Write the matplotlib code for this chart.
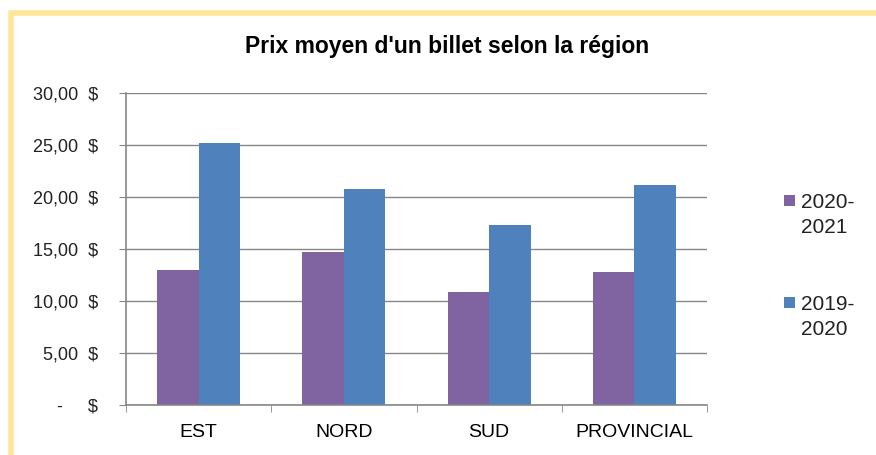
import matplotlib.pyplot as plt
from matplotlib.patches import Rectangle
from matplotlib.ticker import FuncFormatter
import numpy as np

regions = ['EST', 'NORD', 'SUD', 'PROVINCIAL']
prix_2020_2021 = [13.0, 14.7, 10.9, 12.8]
prix_2019_2020 = [25.2, 20.8, 17.3, 21.2]
series_labels = ['2020-\n2021', '2019-\n2020']
series_colors = ['#8064A2', '#4F81BD']
titre = "Prix moyen d'un billet selon la région"

plt.rcParams['font.family'] = ['Liberation Sans', 'DejaVu Sans']

W, H = 876, 455


def format_dollars(v, pos):
    if abs(v) < 1e-9:
        return '-     $'
    return '{:.2f}'.format(v).replace('.', ',') + '  $'


def main():
    fig = plt.figure(figsize=(W / 100, H / 100), dpi=100)

    # cadre jaune autour du graphique
    fig.patches.append(Rectangle((10.5 / W, -0.1), 1.2, 1 - 12.5 / H + 0.1,
                                 transform=fig.transFigure, fill=False,
                                 edgecolor='#FFE699', linewidth=4))

    ax = fig.add_axes([126 / W, 1 - 405 / H, (707 - 126) / W, (405 - 93) / H])

    x = np.arange(len(regions))
    w = 1 / 3.5
    ax.bar(x - w / 2, prix_2020_2021, w, color=series_colors[0])
    ax.bar(x + w / 2, prix_2019_2020, w, color=series_colors[1])

    ax.set_xlim(-0.5, len(regions) - 0.5)
    ax.set_ylim(0, 30)
    ax.set_yticks(np.arange(0, 31, 5))
    ax.yaxis.set_major_formatter(FuncFormatter(format_dollars))
    ax.set_xticks(x)
    ax.set_xticklabels(regions, fontsize=14)
    ax.set_xticks(np.arange(-0.5, len(regions)), minor=True)
    ax.tick_params(axis='x', which='major', length=0, pad=14)
    ax.tick_params(axis='x', which='minor', length=5, color='#868686')
    ax.tick_params(axis='y', length=5, color='#868686', labelsize=13, pad=15,
                   labelcolor='#222222')

    ax.grid(axis='y', color='#868686', linewidth=1)
    ax.set_axisbelow(True)
    for s in ['top', 'right']:
        ax.spines[s].set_visible(False)
    for s in ['left', 'bottom']:
        ax.spines[s].set_color('#868686')
        ax.spines[s].set_linewidth(1.2)

    fig.text(447 / W, 1 - 47 / H, titre, ha='center', va='center',
             fontsize=16.5, fontweight='bold')

    # legende a droite, carre aligne sur la premiere ligne
    for lab, col, cap_top in zip(series_labels, series_colors, [197, 299]):
        fig.patches.append(Rectangle((784 / W, 1 - (cap_top + 9) / H), 11 / W, 11 / H,
                                     transform=fig.transFigure,
                                     facecolor=col, edgecolor='none'))
        fig.text(801 / W, 1 - (cap_top - 4) / H, lab, ha='left', va='top',
                 fontsize=15, linespacing=1.4, color='#222222')

    fig.savefig('out.png', dpi=100)


if __name__ == '__main__':
    main()
